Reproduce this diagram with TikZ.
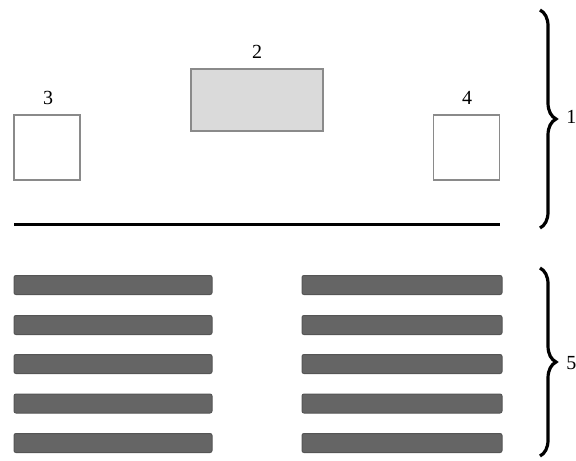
\documentclass[tikz,border=0pt]{standalone}
\usepackage{fontspec}
\setmainfont{Liberation Serif}
\usepackage{xcolor}
\usepackage{tikz}
\usetikzlibrary{positioning,decorations.pathreplacing}

\definecolor{boxline}{HTML}{8A8A8A}
\definecolor{boxfill}{HTML}{DADADA}
\definecolor{slabfill}{HTML}{656565}
\definecolor{slabline}{HTML}{555555}

\begin{document}
\begin{tikzpicture}[x=0.5pt, y=-0.5pt,
				sidebox/.style={draw=boxline, fill=white, rectangle, line width=0.6pt,
						minimum width=33pt, minimum height=32.5pt, inner sep=0pt},
				topbox/.style={draw=boxline, fill=boxfill, rectangle, line width=0.6pt,
						minimum width=66pt, minimum height=31pt, inner sep=0pt},
				slab/.style={draw=slabline, fill=slabfill, rectangle, rounded corners=1pt,
						line width=0.5pt, minimum height=9.5pt, inner sep=0pt},
				num/.style={font=\normalsize, inner sep=1pt},
				grp/.style={decorate, decoration={brace, amplitude=8pt}, line width=1.6pt},
			]
			\useasboundingbox (0,0) rectangle (576,460);
			% upper part
			\node[sidebox] (b3) at (47, 147.5) {};
			\node[topbox]  (b2) at (257, 100) {};
			\node[sidebox] (b4) at (466.5, 147.5) {};
			\node[num] (n3) at (48, 98) {3};
			\node[num] (n2) at (257, 52) {2};
			\node[num] (n4) at (467, 98) {4};
			\coordinate (wl) at (14, 224);
			\coordinate (wr) at (500, 224);
			\draw[line width=1.5pt] (wl) -- (wr);
			% lower part
			\foreach \i/\y in {1/285,2/325,3/364,4/403.5,5/443}{
				\node[slab, minimum width=99pt]  (sl\i) at (113, \y) {};
				\node[slab, minimum width=100pt] (sr\i) at (402, \y) {};
			}
			% braces
			\coordinate (t1) at (540, 10);
			\coordinate (e1) at (540, 228);
			\coordinate (t5) at (540, 268);
			\coordinate (e5) at (540, 456);
			\draw[grp] (t1) -- (e1);
			\draw[grp] (t5) -- (e5);
			\node[num, anchor=west] (n1) at (564, 117) {1};
			\node[num, anchor=west] (n5) at (564, 363) {5};
		\end{tikzpicture}
\end{document}
